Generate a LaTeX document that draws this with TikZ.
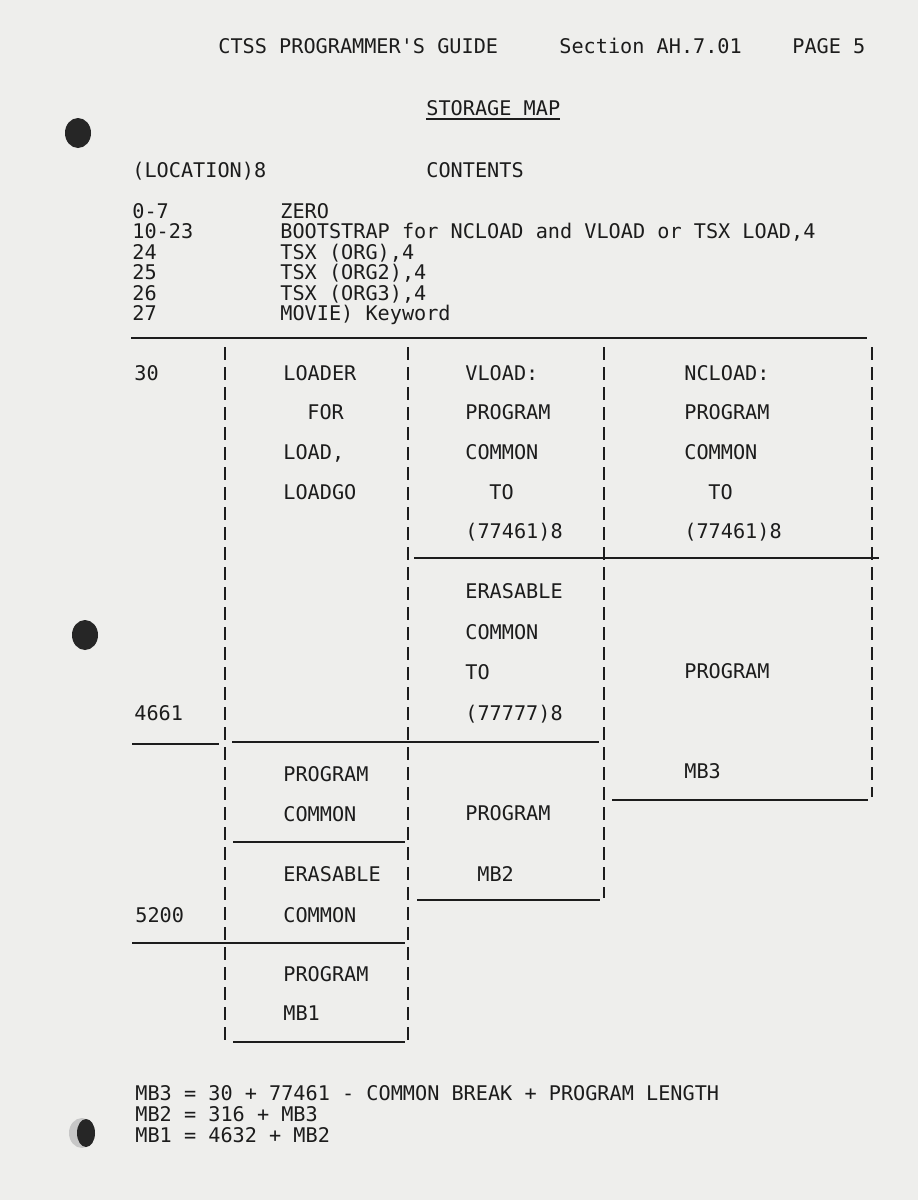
\documentclass[tikz,border=0pt]{standalone}
\usepackage{fontspec}
\setmonofont{DejaVu Sans Mono}
\usepackage{tikz}
\usetikzlibrary{positioning}
\usepackage{xcolor}
\definecolor{paperc}{HTML}{EEEEEC}
\definecolor{inkc}{HTML}{1C1C1C}
\tikzset{
  tw/.style={anchor=base west, inner sep=0pt, text=inkc,
    font=\ttfamily\fontsize{10.1}{12}\selectfont},
  rulel/.style={inkc, line width=1.1pt},
  dashl/.style={inkc, line width=0.85pt, dash pattern=on 6.5pt off 3.5pt},
  hole/.style={fill=black!85}
}

\begin{document}
\begin{tikzpicture}[x=0.5pt, y=-0.5pt]
  \fill[paperc] (0,0) rectangle (918,1200);
  \useasboundingbox (0,0) rectangle (918,1200);
  \fill[hole] (78,133) ellipse [x radius=6.5pt, y radius=7.5pt];
  \fill[hole] (85,635) ellipse [x radius=6.5pt, y radius=7.5pt];
  \fill[black!22] (82,1133) ellipse [x radius=6.5pt, y radius=7.5pt];
  \fill[hole] (86,1133) ellipse [x radius=4.5pt, y radius=7pt];
  % header
  \node[tw] (hdrguide) at (218,53) {CTSS PROGRAMMER'S GUIDE};
  \node[tw] (hdrsect) at (559,53) {Section AH.7.01};
  \node[tw] (hdrpage) at (792,53) {PAGE 5};
  \node[tw] (title) at (426,115) {STORAGE MAP};
  \draw[inkc, line width=0.8pt] (title.base west) ++(0,4) -- ++(134,0);
  \node[tw] (loccol) at (132,177) {(LOCATION)8};
  \node[tw] (contcol) at (426,177) {CONTENTS};
  \node[tw] (locA) at (132,218) {0-7};
  \node[tw] (locB) at (132,238) {10-23};
  \node[tw] (locC) at (132,259) {24};
  \node[tw] (locD) at (132,279) {25};
  \node[tw] (locE) at (132,300) {26};
  \node[tw] (locF) at (132,320) {27};
  \node[tw] (contA) at (280,218) {ZERO};
  \node[tw] (contB) at (280,238) {BOOTSTRAP for NCLOAD and VLOAD or TSX LOAD,4};
  \node[tw] (contC) at (280,259) {TSX (ORG),4};
  \node[tw] (contD) at (280,279) {TSX (ORG2),4};
  \node[tw] (contE) at (280,300) {TSX (ORG3),4};
  \node[tw] (contF) at (280,320) {MOVIE) Keyword};
  % map frame
  \draw[rulel] (131,338) -- (867,338);
  \draw[dashl] (225,347) -- (225,1040);
  \draw[dashl] (408,347) -- (408,1040);
  \draw[dashl] (604,347) -- (604,898);
  \draw[dashl] (872,347) -- (872,797);
  \draw[rulel] (414,558) -- (879,558);
  \draw[rulel] (132,744) -- (219,744);
  \draw[rulel] (232,742) -- (599,742);
  \draw[rulel] (612,800) -- (868,800);
  \draw[rulel] (233,842) -- (405,842);
  \draw[rulel] (417,900) -- (600,900);
  \draw[rulel] (132,943) -- (405,943);
  \draw[rulel] (233,1042) -- (405,1042);
  % locations
  \node[tw] (addrA) at (134,380) {30};
  \node[tw] (addrB) at (134,720) {4661};
  \node[tw] (addrC) at (135,922) {5200};
  % loader column
  \node[tw] (ldA) at (283,380) {LOADER};
  \node[tw] (ldB) at (307,419) {FOR};
  \node[tw] (ldC) at (283,459) {LOAD,};
  \node[tw] (ldD) at (283,499) {LOADGO};
  \node[tw] (pcA) at (283,781) {PROGRAM};
  \node[tw] (pcB) at (283,821) {COMMON};
  \node[tw] (ecA) at (283,881) {ERASABLE};
  \node[tw] (ecB) at (283,922) {COMMON};
  \node[tw] (mbA) at (283,981) {PROGRAM};
  \node[tw] (mbB) at (283,1020) {MB1};
  % vload column
  \node[tw] (vlA) at (465,380) {VLOAD:};
  \node[tw] (vlB) at (465,419) {PROGRAM};
  \node[tw] (vlC) at (465,459) {COMMON};
  \node[tw] (vlD) at (489,499) {TO};
  \node[tw] (vlE) at (465,538) {(77461)8};
  \node[tw] (veA) at (465,598) {ERASABLE};
  \node[tw] (veB) at (465,639) {COMMON};
  \node[tw] (veC) at (465,679) {TO};
  \node[tw] (veD) at (465,720) {(77777)8};
  \node[tw] (vpA) at (465,820) {PROGRAM};
  \node[tw] (vpB) at (477,881) {MB2};
  % ncload column
  \node[tw] (ncA) at (684,380) {NCLOAD:};
  \node[tw] (ncB) at (684,419) {PROGRAM};
  \node[tw] (ncC) at (684,459) {COMMON};
  \node[tw] (ncD) at (708,499) {TO};
  \node[tw] (ncE) at (684,538) {(77461)8};
  \node[tw] (npA) at (684,678) {PROGRAM};
  \node[tw] (npB) at (684,778) {MB3};
  % breaks
  \node[tw] (brkA) at (135,1100) {MB3 = 30 + 77461 - COMMON BREAK + PROGRAM LENGTH};
  \node[tw] (brkB) at (135,1121) {MB2 = 316 + MB3};
  \node[tw] (brkC) at (135,1142) {MB1 = 4632 + MB2};
\end{tikzpicture}
\end{document}
